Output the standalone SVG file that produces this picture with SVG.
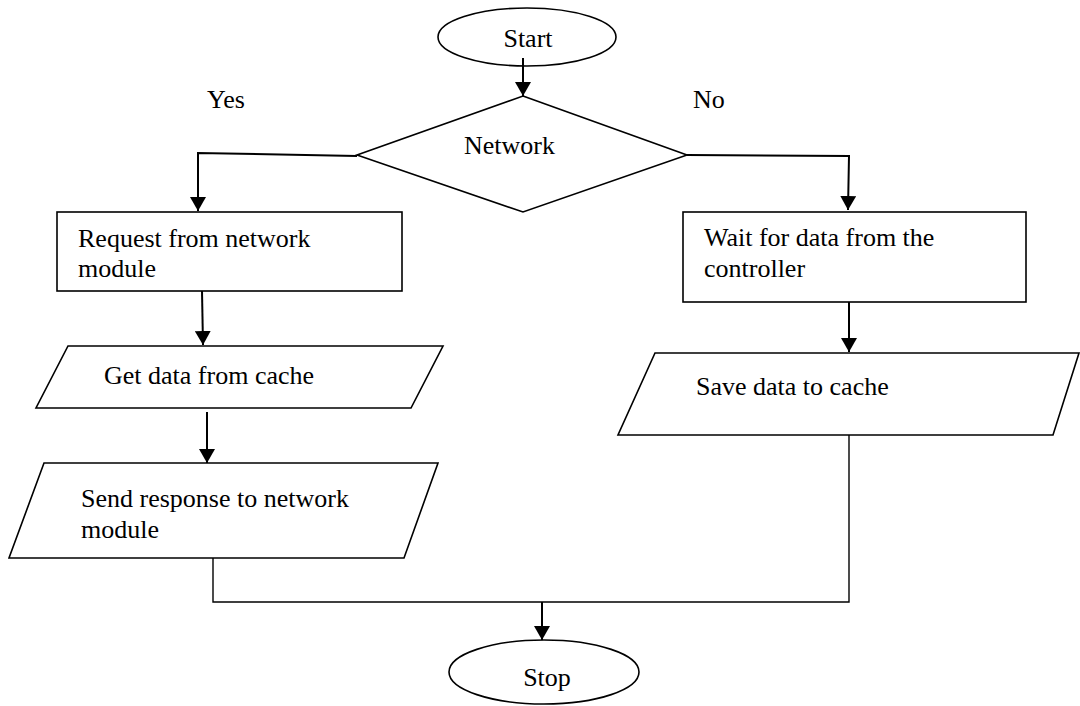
<svg xmlns="http://www.w3.org/2000/svg" width="1080" height="706" viewBox="0 0 1080 706">
<style>
.shape{fill:#fff;stroke:#000;stroke-width:1.6}
.conn{fill:none;stroke:#000;stroke-width:2}
.plain{fill:none;stroke:#000;stroke-width:1.4}
text{font-family:"Liberation Serif","Times New Roman",serif;font-size:26px;fill:#000}
</style>
<defs>
<marker id="arr" viewBox="0 0 14 16" refX="14" refY="8" markerWidth="14" markerHeight="16" markerUnits="userSpaceOnUse" orient="auto">
<path d="M0,0 L14,8 L0,16 z" fill="#000"/>
</marker>
</defs>
<rect width="1080" height="706" fill="#fff"/>
<g id="start">
<ellipse class="shape" cx="527" cy="37" rx="89" ry="29"/>
<text x="528" y="47" text-anchor="middle">Start</text>
</g>
<g id="network">
<polygon class="shape" points="523,96 687,155 523,212 357,155"/>
<text x="464" y="154">Network</text>
</g>
<g id="labels">
<text x="207" y="108">Yes</text>
<text x="693" y="108">No</text>
</g>
<g id="request">
<rect class="shape" x="57" y="212" width="345" height="79"/>
<text x="78" y="247">Request from network</text>
<text x="78" y="277">module</text>
</g>
<g id="getdata">
<polygon class="shape" points="68,346 443,346 411,408 36,408"/>
<text x="104" y="384">Get data from cache</text>
</g>
<g id="sendresp">
<polygon class="shape" points="44,463 438,463 404,558 9,558"/>
<text x="81" y="507">Send response to network</text>
<text x="81" y="538">module</text>
</g>
<g id="wait">
<rect class="shape" x="683" y="212" width="343" height="90"/>
<text x="704" y="246">Wait for data from the</text>
<text x="704" y="277">controller</text>
</g>
<g id="savedata">
<polygon class="shape" points="655,353 1079,353 1053,435 618,435"/>
<text x="696" y="395">Save data to cache</text>
</g>
<g id="stop">
<ellipse class="shape" cx="544" cy="672" rx="95" ry="32"/>
<text x="547" y="686" text-anchor="middle">Stop</text>
</g>
<g id="connectors">
<path class="conn" d="M523,58 L523,96" marker-end="url(#arr)"/>
<path class="conn" d="M357,156 L198,153 L198,211" marker-end="url(#arr)"/>
<path class="conn" d="M687,155 L849,156 L848,210" marker-end="url(#arr)"/>
<path class="conn" d="M202,291 L203,345" marker-end="url(#arr)"/>
<path class="conn" d="M207,412 L207,463" marker-end="url(#arr)"/>
<path class="conn" d="M849,302 L849,352" marker-end="url(#arr)"/>
<path class="plain" d="M213,558 L213,602 L849,602 L849,435"/>
<path class="conn" d="M542,602 L542,640" marker-end="url(#arr)"/>
</g>
</svg>
